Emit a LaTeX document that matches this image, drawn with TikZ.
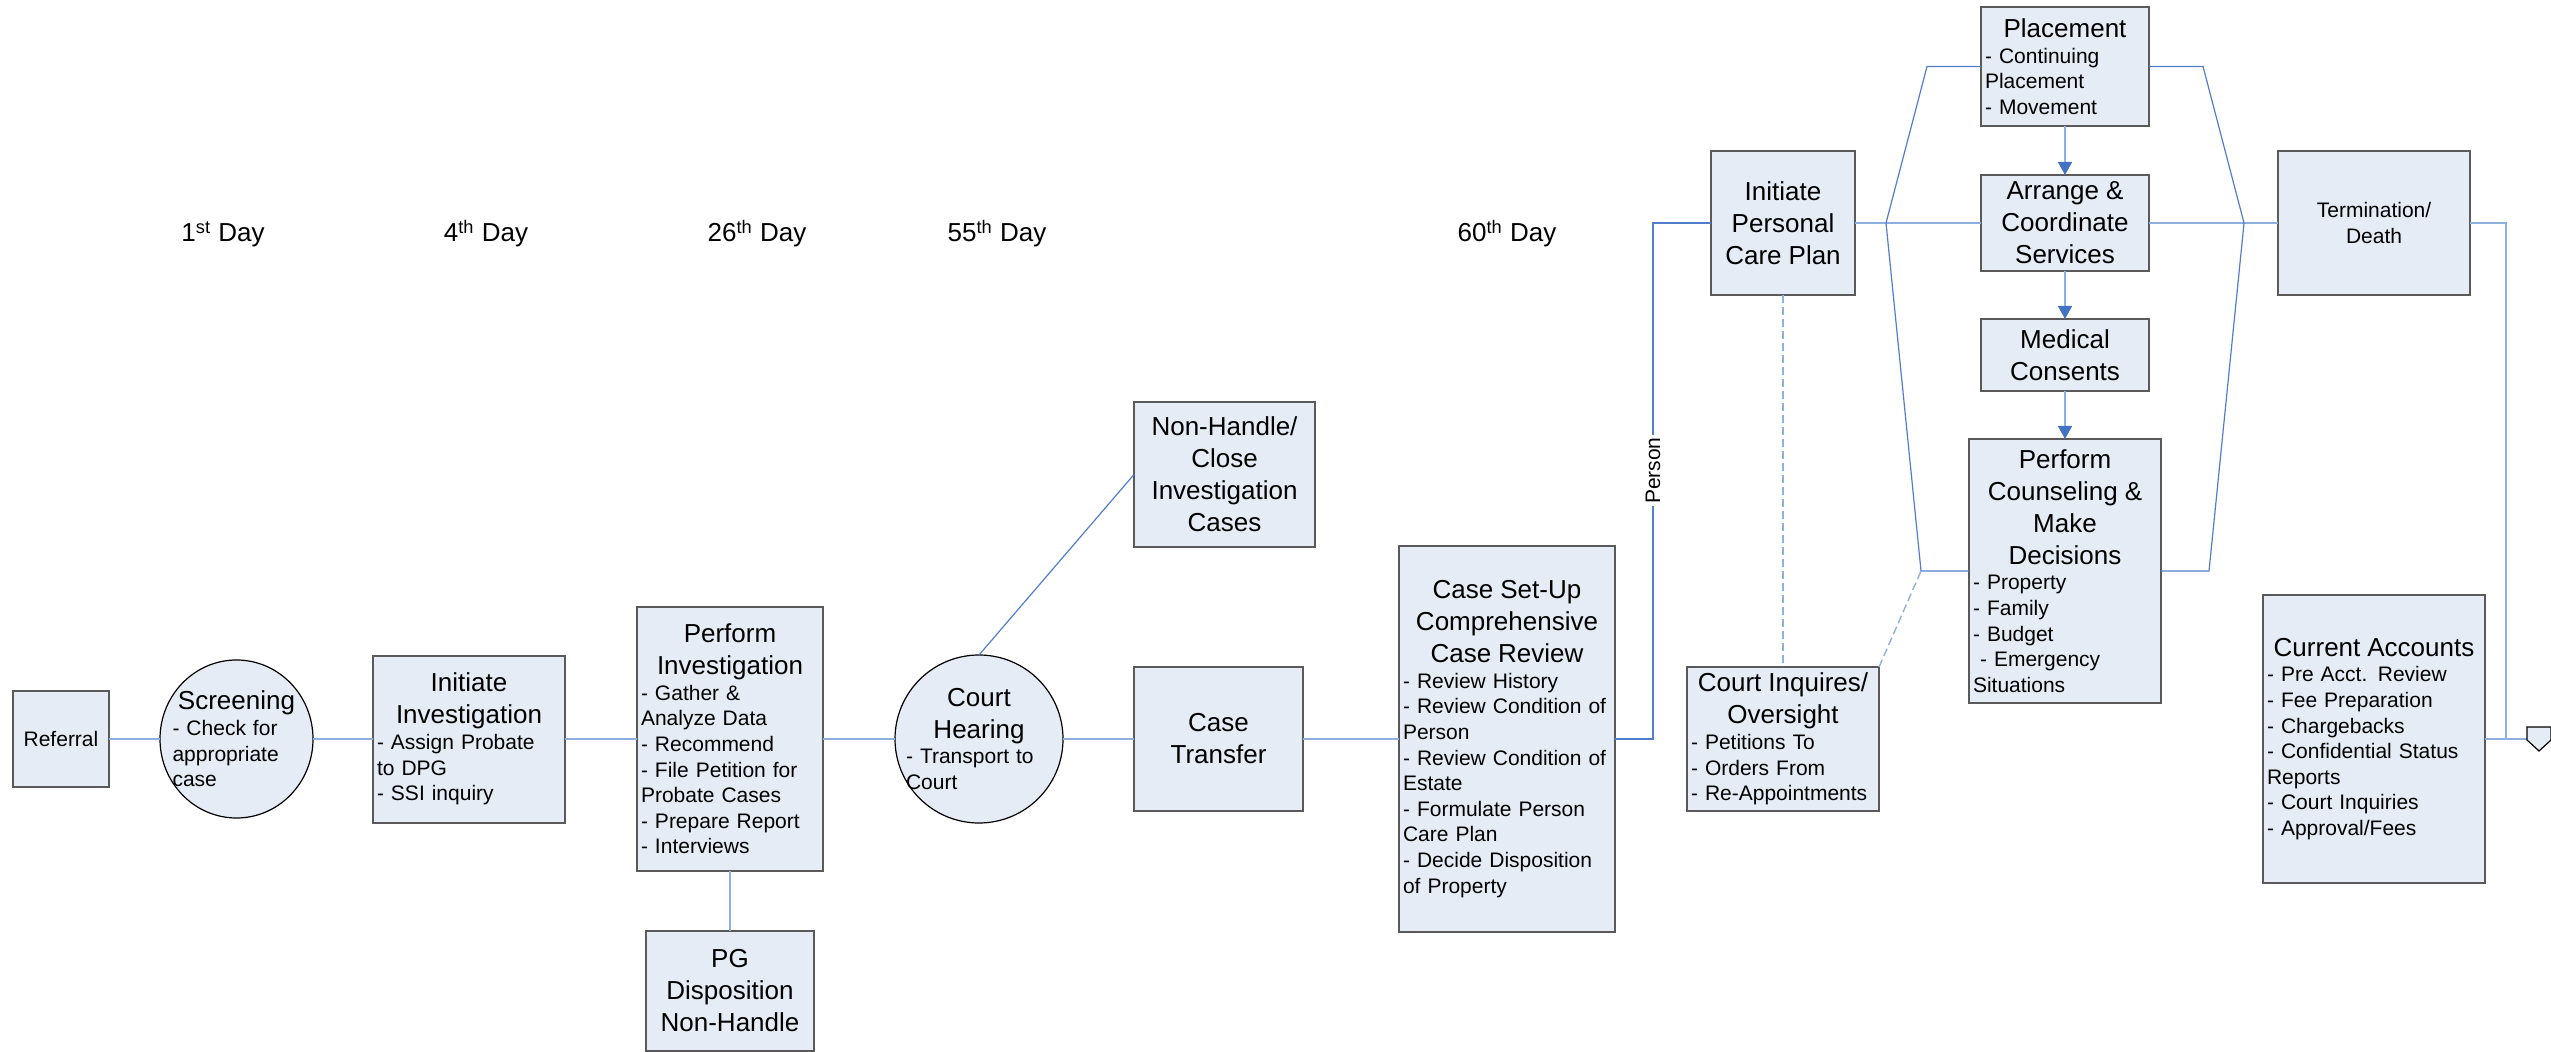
\documentclass[tikz,border=0pt]{standalone}
\usepackage{fontspec}
\setmainfont{Liberation Sans}
\usetikzlibrary{positioning, shapes.geometric, arrows.meta}

\definecolor{boxfill}{RGB}{230,236,246}
\definecolor{boxline}{RGB}{90,90,90}
\definecolor{linklight}{RGB}{141,176,222}
\definecolor{linkblue}{RGB}{80,126,204}
\definecolor{arrowblue}{RGB}{68,114,196}

\newcommand{\ttlfont}{\fontsize{13}{16}\selectfont}
\newcommand{\itmfont}{\fontsize{10.5}{12.8}\selectfont}
\newcommand{\boxttl}[1]{{\centering\ttlfont #1\par}}

\tikzset{
  procbox/.style={draw=boxline, line width=1pt, fill=boxfill, inner xsep=2pt, inner ysep=1pt, outer sep=0pt, align=left, font=\itmfont},
  roundbox/.style={draw=black, line width=0.6pt, fill=boxfill, outer sep=0pt, inner sep=0pt},
  boxtext/.style={align=left, font=\itmfont, inner sep=0pt},
  link/.style={draw=linklight, line width=1pt},
  flow/.style={draw=linkblue, line width=0.6pt},
  careline/.style={draw=linklight, line width=0.7pt, dash pattern=on 4pt off 2pt},
  stepto/.style={draw=linklight, line width=0.8pt, -{Triangle[width=7pt,length=6.5pt,color=arrowblue]}},
  daylbl/.style={font=\ttlfont, anchor=base, inner sep=0pt},
  personlbl/.style={rotate=90, fill=white, font=\itmfont, inner sep=1pt},
}

\begin{document}
\begin{tikzpicture}[x=0.5pt, y=-0.5pt, node distance=36pt]
	\useasboundingbox (0,0) rectangle (2551,1052);

	% day markers
	\node[daylbl] (day1) at (223,242) {1\textsuperscript{st} Day};
	\node[daylbl] (day4) at (486,242) {4\textsuperscript{th} Day};
	\node[daylbl] (day26) at (757,242) {26\textsuperscript{th} Day};
	\node[daylbl] (day55) at (997,242) {55\textsuperscript{th} Day};
	\node[daylbl] (day60) at (1507,242) {60\textsuperscript{th} Day};

	% intake and investigation
	\node[procbox, minimum width=48pt, minimum height=48pt, text width=44pt, align=center] (referral) at (61,739) {Referral};
	\node[roundbox, ellipse, minimum width=76.5pt, minimum height=79pt, right=25.5pt of referral] (screen) {};
	\node[boxtext, text width=64pt] (screen-txt) at (screen) {\boxttl{Screening}- Check for\\appropriate\\case};
	\node[procbox, minimum width=96pt, minimum height=83.5pt, text width=92pt, right=30pt of screen] (initinv) {\boxttl{Initiate\\Investigation}- Assign Probate\\to DPG\\- SSI inquiry};
	\node[procbox, minimum width=93pt, minimum height=132pt, text width=89pt, right=36pt of initinv] (perfinv) {\boxttl{Perform\\Investigation}- Gather \&\\Analyze Data\\- Recommend\\- File Petition for\\Probate Cases\\- Prepare Report\\- Interviews};
	\node[procbox, minimum width=84pt, minimum height=60pt, text width=80pt, below=30pt of perfinv] (pgdisp) {\boxttl{PG\\Disposition\\Non-Handle}};

	% court
	\node[roundbox, circle, minimum size=84pt, right=36pt of perfinv] (court) {};
	\node[boxtext, text width=73pt] (court-txt) at (court) {\boxttl{Court\\Hearing}- Transport to\\Court};
	\node[procbox, minimum width=84.5pt, minimum height=72pt, text width=80.5pt, right=35.5pt of court] (transfer) {\boxttl{Case\\Transfer}};
	\node[procbox, minimum width=90.5pt, minimum height=72.5pt, text width=86.5pt, above=60pt of transfer, xshift=3pt] (nonhandle) {\boxttl{Non-Handle/\\Close\\Investigation\\Cases}};
	\node[procbox, minimum width=108pt, minimum height=192.5pt, text width=104pt, right=48pt of transfer] (setup) {\boxttl{Case Set-Up\\Comprehensive\\Case Review}- Review History\\- Review Condition of\\Person\\- Review Condition of\\Estate\\- Formulate Person\\Care Plan\\- Decide Disposition\\of Property};
	\node[procbox, minimum width=96pt, minimum height=72pt, text width=92pt, right=36pt of setup] (courtinq) {\boxttl{Court Inquires/\\Oversight}- Petitions To\\- Orders From\\- Re-Appointments};

	% care plan
	\node[procbox, minimum width=72pt, minimum height=72pt, text width=68pt, above=186pt of courtinq] (ipcp) {\boxttl{Initiate\\Personal\\Care Plan}};
	\node[procbox, minimum width=84pt, minimum height=48pt, text width=80pt, right=63pt of ipcp] (arrange) {\boxttl{Arrange \&\\Coordinate\\Services}};
	\node[procbox, minimum width=84pt, minimum height=59.5pt, text width=80pt, above=24.5pt of arrange] (placement) {\boxttl{Placement}- Continuing\\Placement\\- Movement};
	\node[procbox, minimum width=84pt, minimum height=36pt, text width=80pt, below=24pt of arrange] (medical) {\boxttl{Medical\\Consents}};
	\node[procbox, minimum width=96pt, minimum height=132pt, text width=92pt, below=24pt of medical] (couns) {\boxttl{Perform\\Counseling \&\\Make\\Decisions}- Property\\- Family\\- Budget\\\ - Emergency\\Situations};
	\node[procbox, minimum width=96pt, minimum height=72pt, text width=92pt, align=center, right=64.5pt of arrange] (termination) {Termination/\\Death};
	\node[procbox, minimum width=111pt, minimum height=144pt, text width=107pt, below=150pt of termination] (accounts) {\boxttl{Current Accounts}- Pre Acct. Review\\- Fee Preparation\\- Chargebacks\\- Confidential Status\\Reports\\- Court Inquiries\\- Approval/Fees};

	\coordinate (jl) at (1886,223);
	\coordinate (jlb) at (1921,571);
	\coordinate (jr) at (2244,223);
	\coordinate (jrb) at (2209,571);
	\coordinate (offpg) at (2527,739);

	% connectors
	\draw[link] (referral) -- (screen);
	\draw[link] (screen) -- (initinv);
	\draw[link] (initinv) -- (perfinv);
	\draw[link] (perfinv) -- (court);
	\draw[link] (court) -- (transfer);
	\draw[link] (transfer) -- (setup);
	\draw[link] (perfinv) -- (pgdisp);
	\draw[flow] (court.north) -- (nonhandle.west);
	\draw[flow] (setup.east) -- ++(38,0) |- node[pos=0.26, personlbl] {Person} (ipcp.west);
	\draw[careline] (ipcp) -- (courtinq);
	\draw[careline] (courtinq.north east) -- (jlb);
	\draw[link] (ipcp) -- (arrange);
	\draw[link] (arrange) -- (termination);
	\draw[flow] (placement.west) -- ++(-54,0) -- (jl) -- (jlb) -- (couns.west);
	\draw[flow] (placement.east) -- ++(54,0) -- (jr) -- (jrb) -- (couns.east);
	\draw[stepto] (placement) -- (arrange);
	\draw[stepto] (arrange) -- (medical);
	\draw[stepto] (medical) -- (couns);
	\draw[link] (termination.east) -- ++(36,0) |- (offpg);
	\draw[link] (accounts) -- (offpg);
	\draw[draw=black, line width=0.6pt, fill=boxfill] (offpg) ++(0,-12) -- ++(24,0) -- ++(0,13) -- ++(-12,11) -- ++(-12,-11) -- cycle;
\end{tikzpicture}
\end{document}
